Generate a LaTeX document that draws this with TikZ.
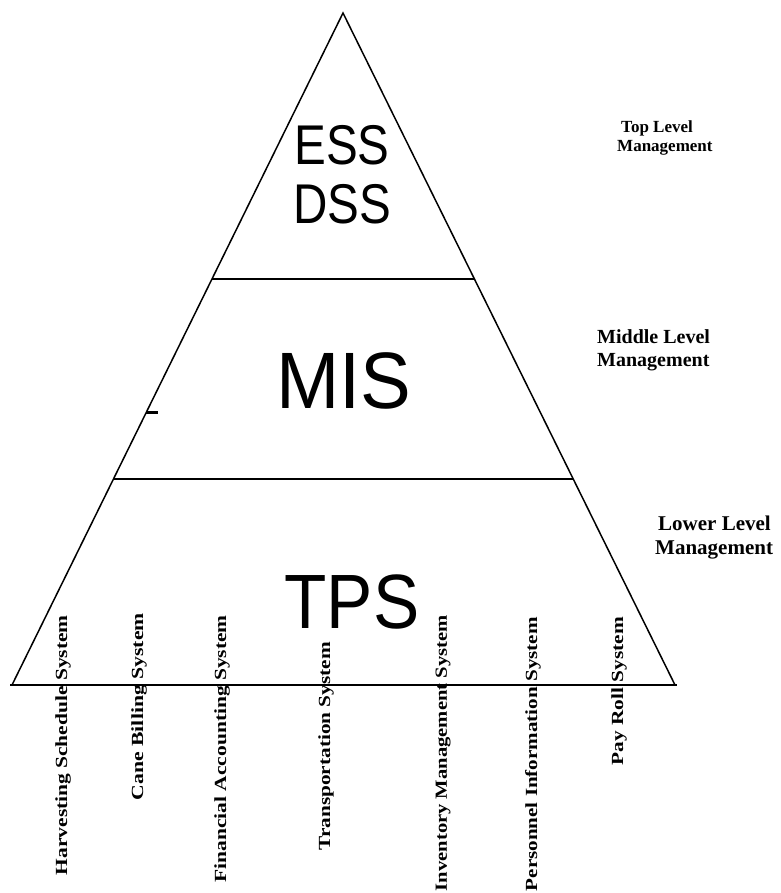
\documentclass[tikz,border=0pt]{standalone}
\usepackage{fontspec}
\usepackage{graphicx}
\setmainfont{Liberation Serif}
\newfontfamily\bigsans{Liberation Sans}
\usetikzlibrary{calc}
\tikzset{
  edge/.style={line width=1.5pt, line join=miter},
  divider/.style={line width=1.6pt},
  levelname/.style={inner sep=0pt, anchor=base, text=black},
  sidelabel/.style={inner sep=0pt, anchor=base west, font=\bfseries\fontsize{20}{24}\selectfont},
  syslabel/.style={inner sep=0pt, rotate=90, anchor=east, font=\bfseries\fontsize{17}{20}\selectfont}
}
\begin{document}
\begin{tikzpicture}[x=1pt,y=-1pt]
\useasboundingbox (0,0) rectangle (780,893);
% triangle
\coordinate (A) at (343,13);
\coordinate (L) at (12,685);
\coordinate (R) at (675,685);
\coordinate (B0) at (10,685);
\coordinate (B1) at (677,685);
\coordinate (D1l) at ($(A)!0.3958!(L)$);
\coordinate (D1r) at ($(A)!0.3958!(R)$);
\coordinate (D2l) at ($(A)!0.6935!(L)$);
\coordinate (D2r) at ($(A)!0.6935!(R)$);
\coordinate (Ml) at ($(A)!0.5938!(L)$);
\coordinate (Mr) at ($(Ml)+(12,0)$);
\draw[edge] (L) -- (A) -- (R);
\draw[line width=2pt] (B0) -- (B1);
\draw[divider] (D1l) -- (D1r);
\draw[divider] (D2l) -- (D2r);
\draw[line width=3pt] (Ml) -- (Mr);
% level names
\node[levelname, font=\bigsans\fontsize{56}{60}\selectfont, xscale=0.85] (ess) at (342,165) {ESS};
\node[levelname, font=\bigsans\fontsize{56}{60}\selectfont, xscale=0.85] (dss) at (342,223) {DSS};
\node[levelname, font=\bigsans\fontsize{80}{84}\selectfont, xscale=0.95] (mis) at (344,408) {MIS};
\node[levelname, font=\bigsans\fontsize{77}{80}\selectfont, xscale=0.9] (tps) at (352,628) {TPS};
% side labels
\node[sidelabel, font=\bfseries\fontsize{17}{20}\selectfont] (top1) at (621,133) {Top Level};
\node[sidelabel, font=\bfseries\fontsize{17}{20}\selectfont] (top2) at (617,152) {Management};
\node[sidelabel] (mid1) at (597,343) {Middle Level};
\node[sidelabel] (mid2) at (597,366) {Management};
\node[sidelabel, font=\bfseries\fontsize{21}{24}\selectfont] (low1) at (658,530) {Lower Level};
\node[sidelabel, font=\bfseries\fontsize{21}{24}\selectfont] (low2) at (655,554) {Management};
% system labels
\node[syslabel] (s1) at (63,615) {\resizebox{260pt}{\height}{Harvesting Schedule System}};
\node[syslabel] (s2) at (139,613) {\resizebox{187pt}{\height}{Cane Billing System}};
\node[syslabel] (s3) at (222,615) {\resizebox{267pt}{\height}{Financial Accounting System}};
\node[syslabel] (s4) at (326,642) {\resizebox{208pt}{\height}{Transportation System}};
\node[syslabel] (s5) at (443,615) {\resizebox{276pt}{\height}{Inventory Management System}};
\node[syslabel] (s6) at (533,617) {\resizebox{274pt}{\height}{Personnel Information System}};
\node[syslabel] (s7) at (619,617) {\resizebox{148pt}{\height}{Pay Roll System}};
\end{tikzpicture}
\end{document}
